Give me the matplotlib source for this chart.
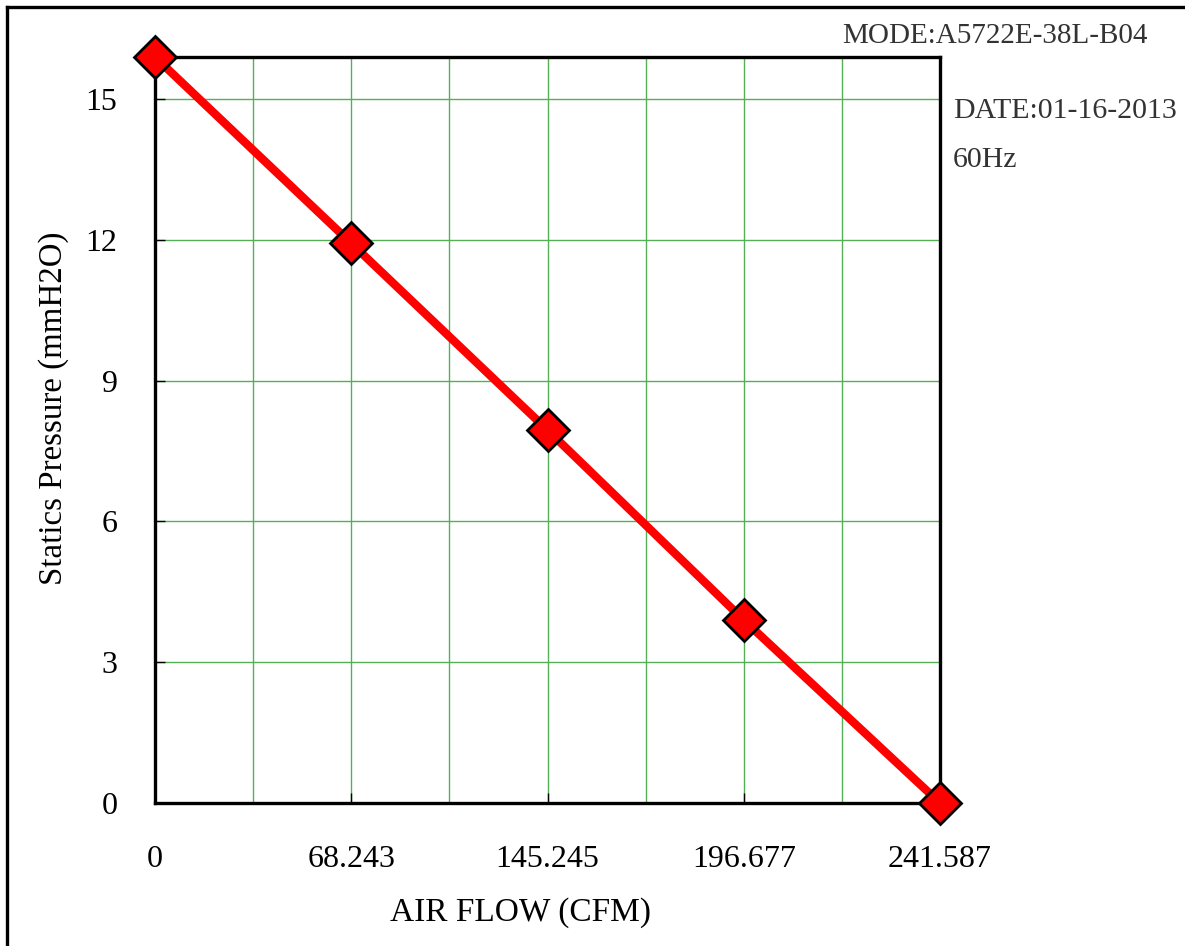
import numpy as np
import matplotlib.pyplot as plt
from matplotlib.lines import Line2D

# 風量-静圧データ
flow_labels = ["0", "68.243", "145.245", "196.677", "241.587"]
pressure = [15.9, 11.93, 7.95, 3.9, 0.0]
y_ticks = [0, 3, 6, 9, 12, 15]

mode_text = "MODE:A5722E-38L-B04"
date_text = "DATE:01-16-2013"
freq_text = "60Hz"


def main():
    plt.rcParams['font.family'] = ['Liberation Serif', 'DejaVu Serif']
    plt.rcParams['font.size'] = 23

    fig = plt.figure(figsize=(11.85, 9.46), dpi=100)
    W, H = 1185, 946
    ax = fig.add_axes([155 / W, 1 - 803 / H, (940 - 155) / W, (803 - 57) / H])

    x = np.arange(len(flow_labels))
    ax.plot(x, pressure, color='red', lw=6, marker='D', ms=21,
            mfc='red', mec='black', mew=2, clip_on=False, zorder=5)

    ax.set_xlim(0, len(flow_labels) - 1)
    ax.set_ylim(0, max(pressure))
    ax.set_xticks(x)
    ax.set_xticklabels(flow_labels)
    ax.set_xticks(np.arange(0, len(flow_labels) - 1, 0.5), minor=True)
    ax.set_yticks(y_ticks)

    ax.tick_params(which='major', direction='in', length=7, width=1,
                   color='black', labelsize=23)
    ax.tick_params(axis='y', which='major', pad=27)
    ax.tick_params(axis='x', which='major', pad=30)
    ax.tick_params(which='minor', length=0)
    ax.grid(which='both', color='#55b055', lw=1)
    ax.set_axisbelow(True)
    for s in ax.spines.values():
        s.set_linewidth(2.4)
        s.set_color('black')

    ax.set_xlabel("AIR FLOW (CFM)", fontsize=24, va='center')
    ax.xaxis.set_label_coords(520 / W, 1 - 913 / H, transform=fig.transFigure)
    ax.set_ylabel("Statics Pressure (mmH2O)", fontsize=23.7, va='center')
    ax.yaxis.set_label_coords(54 / W, 1 - 408 / H, transform=fig.transFigure)

    fig.text(995 / W, 1 - 36 / H, mode_text, ha='center', va='center',
             fontsize=21, color='#333333')
    fig.text(953 / W, 1 - 111 / H, date_text, ha='left', va='center',
             fontsize=21.5, color='#333333')
    fig.text(953 / W, 1 - 160 / H, freq_text, ha='left', va='center',
             fontsize=21.5, color='#333333')

    # 外枠(左と上のみ)
    fig.add_artist(Line2D([7 / W, 7 / W], [0, 1 - 7 / H], color='black', lw=2.4))
    fig.add_artist(Line2D([7 / W, 1], [1 - 7 / H, 1 - 7 / H], color='black', lw=2.4))

    plt.savefig('out.png', dpi=100)


if __name__ == '__main__':
    main()
